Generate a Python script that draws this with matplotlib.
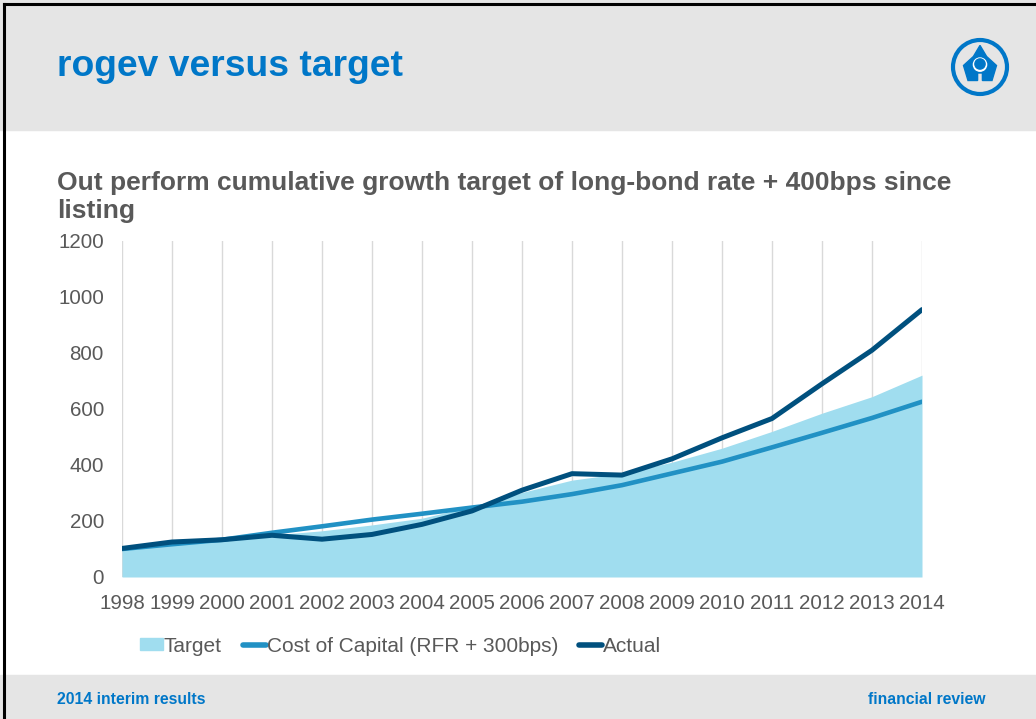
import matplotlib.pyplot as plt
from matplotlib.patches import Rectangle, Circle, Polygon
from matplotlib.lines import Line2D
import matplotlib.patches as mpatches

plt.rcParams['font.family'] = ['Liberation Sans', 'DejaVu Sans']

years = [str(y) for y in range(1998, 2015)]
target = [100, 114, 132, 150, 165, 186, 210, 252, 302, 346, 370, 410, 460, 520, 585, 644, 721]
cost_of_capital = [100, 117, 133, 158, 181, 205, 226, 248, 269, 296, 328, 370, 412, 463, 515, 568, 626]
actual = [102, 125, 133, 149, 135, 152, 188, 236, 310, 369, 364, 422, 497, 566, 690, 810, 955]
y_ticks = [0, 200, 400, 600, 800, 1000, 1200]

BLUE = '#0077c8'
GREY_TEXT = '#595959'
TARGET_C = '#a0ddef'
COST_C = '#2191c4'
ACTUAL_C = '#00507e'

fig = plt.figure(figsize=(10.36, 7.19), dpi=100)
W, H = 1036, 719

def px(x, y):
    return x / W, 1 - y / H

# header / footer bands and frame (kept behind everything else)
fig.patches.append(Rectangle((0, 1 - 130 / H), 1, 130 / H, transform=fig.transFigure,
                             color='#e5e5e5', zorder=-2))
fig.patches.append(Rectangle((0, 0), 1, 44 / H, transform=fig.transFigure,
                             color='#e5e5e5', zorder=-2))
fig.add_artist(Line2D([4 / W, 4 / W], [0, 1 - 4 / H], transform=fig.transFigure,
                      color='black', lw=2.2))
fig.add_artist(Line2D([4 / W, 1], [1 - 4 / H, 1 - 4 / H], transform=fig.transFigure,
                      color='black', lw=2.2))

fig.text(*px(57, 67), 'rogev versus target', color=BLUE, fontsize=26.8,
         fontweight='bold', va='center', ha='left')
fig.text(*px(57, 197), 'Out perform cumulative growth target of long-bond rate + 400bps since\nlisting',
         color=GREY_TEXT, fontsize=19, fontweight='bold', va='center', ha='left',
         linespacing=1.25)

# footer text
fig.text(*px(57, 700), '2014 interim results', color=BLUE, fontsize=11.3,
         fontweight='bold', va='center', ha='left')
fig.text(*px(985, 700), 'financial review', color=BLUE, fontsize=11.3,
         fontweight='bold', va='center', ha='right')

# logo
lax = fig.add_axes([950 / W, 1 - 97 / H, 60 / W, 60 / H])
lax.set_xlim(-1, 1)
lax.set_ylim(-1, 1)
lax.set_aspect('equal')
lax.axis('off')
lax.add_patch(Circle((0, 0), 0.9, fill=False, ec=BLUE, lw=3))
lax.add_patch(Polygon([(0, 0.72), (0.22, 0.35), (0.55, 0.05), (0.4, -0.45), (0.08, -0.45),
                       (0.08, -0.2), (-0.08, -0.2), (-0.08, -0.45), (-0.4, -0.45),
                       (-0.55, 0.05), (-0.22, 0.35)], color=BLUE))
lax.add_patch(Circle((0, 0.08), 0.22, color='white'))
lax.add_patch(Circle((0, 0.1), 0.17, color=BLUE))

# main chart
ax = fig.add_axes([122 / W, 1 - 577 / H, 800 / W, 336 / H])
x = list(range(len(years)))
ax.fill_between(x, 0, target, color=TARGET_C, lw=0, label='Target', zorder=2)
ax.plot(x, cost_of_capital, color=COST_C, lw=3.3, solid_capstyle='round',
        label='Cost of Capital (RFR + 300bps)', zorder=3)
ax.plot(x, actual, color=ACTUAL_C, lw=3.6, solid_capstyle='round',
        label='Actual', zorder=4)

ax.set_xlim(0, len(years) - 1)
ax.set_ylim(0, 1200)
ax.set_xticks(x)
ax.set_xticklabels(years)
ax.set_yticks(y_ticks)
ax.grid(axis='x', color='#d9d9d9', lw=1, zorder=1)
ax.set_axisbelow(True)
for s in ax.spines.values():
    s.set_visible(False)
ax.tick_params(length=0, labelsize=14.8, colors=GREY_TEXT)
ax.tick_params(axis='x', pad=12)
ax.tick_params(axis='y', pad=13)

handles = [mpatches.Patch(color=TARGET_C),
           Line2D([], [], color=COST_C, lw=4, solid_capstyle='round'),
           Line2D([], [], color=ACTUAL_C, lw=4, solid_capstyle='round')]
leg = fig.legend(handles, ['Target', 'Cost of Capital (RFR + 300bps)', 'Actual'],
                 loc='center left', bbox_to_anchor=(140 / W, 1 - 646 / H), ncol=3,
                 frameon=False, fontsize=15, handlelength=1.1, handleheight=0.55,
                 handletextpad=0.05, columnspacing=1.0, borderpad=0,
                 borderaxespad=0, labelcolor=GREY_TEXT)

fig.savefig('out.png', dpi=100)
